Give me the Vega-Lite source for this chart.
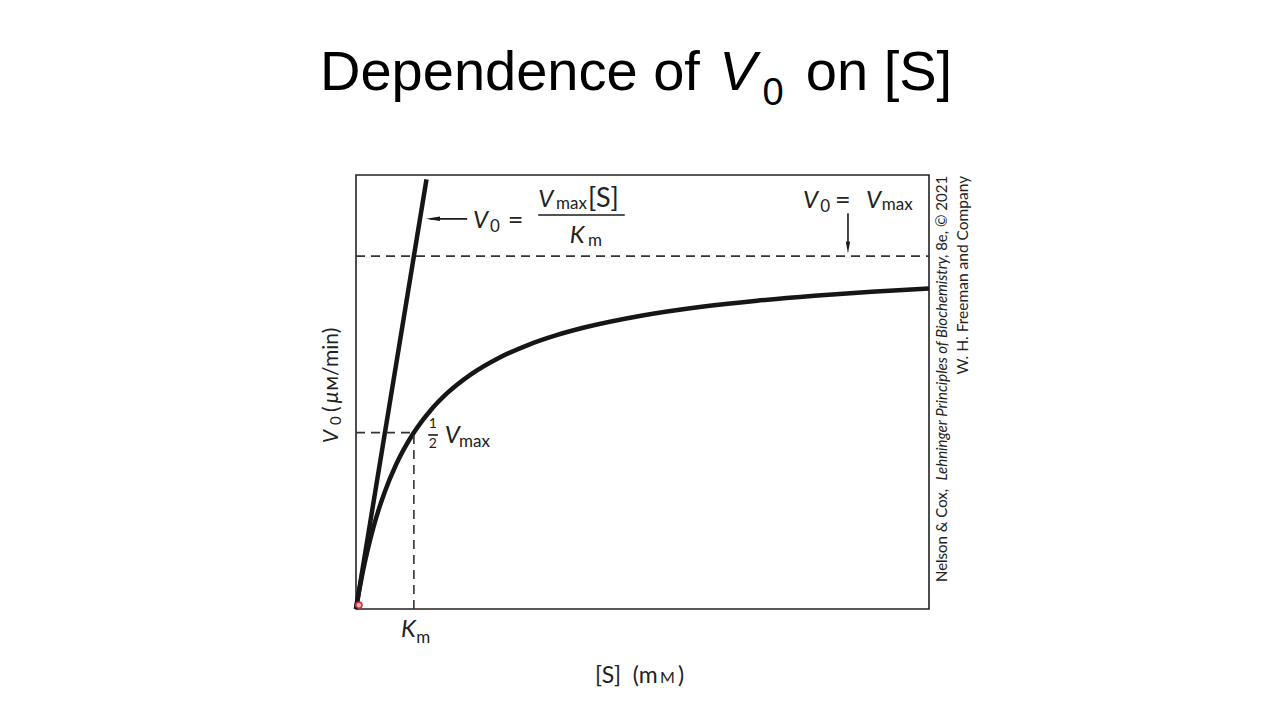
{
  "$schema": "https://vega.github.io/schema/vega-lite/v6.json",
  "autosize": "none",
  "width": 573,
  "height": 434,
  "padding": {"left": 356, "top": 175, "right": 351, "bottom": 111},
  "background": "white",
  "config": {"view": {"stroke": "#222", "strokeWidth": 1.6}},
  "encoding": {
    "x": {"field": "x", "type": "quantitative", "scale": {"domain": [0, 100], "nice": false, "zero": false}, "axis": null},
    "y": {"field": "y", "type": "quantitative", "scale": {"domain": [0, 100], "nice": false, "zero": false}, "axis": null}
  },
  "layer": [
    {
      "data": {"values": [
        {"x": 0, "y": 0}, {"x": 0.5, "y": 3.83}, {"x": 1, "y": 7.32}, {"x": 1.5, "y": 10.51}, {"x": 2, "y": 13.44},
        {"x": 3, "y": 18.62}, {"x": 4, "y": 23.07}, {"x": 5, "y": 26.92}, {"x": 7, "y": 33.28}, {"x": 10.1, "y": 40.65},
        {"x": 13, "y": 45.75}, {"x": 16, "y": 49.84}, {"x": 20, "y": 54.02}, {"x": 25, "y": 57.91}, {"x": 30, "y": 60.82},
        {"x": 35, "y": 63.09}, {"x": 40, "y": 64.91}, {"x": 50, "y": 67.64}, {"x": 60, "y": 69.59}, {"x": 70, "y": 71.05},
        {"x": 80, "y": 72.19}, {"x": 90, "y": 73.10}, {"x": 100, "y": 73.84}
      ]},
      "mark": {"type": "line", "color": "#161616", "strokeWidth": 4.5, "interpolate": "monotone"}
    },
    {
      "data": {"values": [{"x": 0, "y": 0}, {"x": 12.3, "y": 99}]},
      "mark": {"type": "line", "color": "#161616", "strokeWidth": 4.5}
    },
    {
      "data": {"values": [
        {"x": 0, "x2": 100, "y": 81.3, "y2": 81.3},
        {"x": 0, "x2": 10.1, "y": 40.65, "y2": 40.65},
        {"x": 10.1, "x2": 10.1, "y": 0, "y2": 40.65}
      ]},
      "mark": {"type": "rule", "color": "#333", "strokeWidth": 1.6, "strokeDash": [9, 6]},
      "encoding": {"x2": {"field": "x2"}, "y2": {"field": "y2"}}
    },
    {
      "data": {"values": [
        {"x": 12.9, "x2": 19.4, "y": 89.9, "y2": 89.9},
        {"x": 31.8, "x2": 46.9, "y": 90.8, "y2": 90.8},
        {"x": 12.6, "x2": 14.3, "y": 40.1, "y2": 40.1},
        {"x": 85.86, "x2": 85.86, "y": 91.2, "y2": 84.6}
      ]},
      "mark": {"type": "rule", "color": "#1a1a1a", "strokeWidth": 1.6},
      "encoding": {"x2": {"field": "x2"}, "y2": {"field": "y2"}}
    },
    {
      "data": {"values": [{"x": 13.44, "y": 89.9}]},
      "mark": {"type": "point", "shape": "M -1 0 L 1 -0.32 L 1 0.32 Z", "size": 196, "filled": true, "color": "#1a1a1a", "opacity": 1}
    },
    {
      "data": {"values": [{"x": 85.86, "y": 83.3}]},
      "mark": {"type": "point", "shape": "M 0 1 L -0.36 -1 L 0.36 -1 Z", "size": 144, "filled": true, "color": "#1a1a1a", "opacity": 1}
    },
    {
      "data": {"values": [{"x": 0.5, "y": 0.9}]},
      "mark": {"type": "point", "shape": "circle", "size": 40, "filled": true, "fill": "#f6b0b0", "stroke": "#d02030", "strokeWidth": 1.5, "opacity": 1}
    },
    {
      "data": {"values": [{"x": -6.28, "y": 119.6, "t": "Dependence of"}, {"x": 78.5, "y": 119.6, "t": "on [S]"}]},
      "mark": {"type": "text", "font": "Liberation Sans", "fontSize": 56, "align": "left", "baseline": "alphabetic", "color": "#000"},
      "encoding": {"text": {"field": "t"}}
    },
    {
      "data": {"values": [{"x": 63.4, "y": 119.6, "t": "V"}]},
      "mark": {"type": "text", "font": "Liberation Sans", "fontSize": 56, "fontStyle": "italic", "align": "left", "baseline": "alphabetic", "color": "#000"},
      "encoding": {"text": {"field": "t"}}
    },
    {
      "data": {"values": [{"x": 70.95, "y": 116.1, "t": "0"}]},
      "mark": {"type": "text", "font": "Liberation Sans", "fontSize": 38, "align": "left", "baseline": "alphabetic", "color": "#000"},
      "encoding": {"text": {"field": "t"}}
    },
    {
      "data": {"values": [
        {"x": 20.4, "y": 87.8, "t": "V"},
        {"x": 31.8, "y": 92.6, "t": "V"},
        {"x": 37.3, "y": 84.3, "t": "K"},
        {"x": 78.0, "y": 92.4, "t": "V"},
        {"x": 89.0, "y": 92.4, "t": "V"},
        {"x": 15.5, "y": 38.2, "t": "V"},
        {"x": 7.85, "y": -6.45, "t": "K"}
      ]},
      "mark": {"type": "text", "font": "Lato", "fontSize": 24, "fontStyle": "italic", "align": "left", "baseline": "alphabetic", "color": "#222"},
      "encoding": {"text": {"field": "t"}}
    },
    {
      "data": {"values": [
        {"x": 26.5, "y": 87.6, "t": "="},
        {"x": 40.5, "y": 92.6, "t": "[S]"},
        {"x": 83.6, "y": 92.2, "t": "="}
      ]},
      "mark": {"type": "text", "font": "Lato", "fontSize": 27, "align": "left", "baseline": "alphabetic", "color": "#222"},
      "encoding": {"text": {"field": "t"}}
    },
    {
      "data": {"values": [
        {"x": 23.4, "y": 86.9, "t": "0"},
        {"x": 34.9, "y": 92.2, "t": "max"},
        {"x": 40.5, "y": 83.6, "t": "m"},
        {"x": 81.0, "y": 91.5, "t": "0"},
        {"x": 91.75, "y": 91.9, "t": "max"},
        {"x": 17.97, "y": 37.3, "t": "max"},
        {"x": 10.5, "y": -7.8, "t": "m"}
      ]},
      "mark": {"type": "text", "font": "Lato", "fontSize": 17, "align": "left", "baseline": "alphabetic", "color": "#222"},
      "encoding": {"text": {"field": "t"}}
    },
    {
      "data": {"values": [{"x": 13.4, "y": 41.7, "t": "1"}, {"x": 13.4, "y": 37.1, "t": "2"}]},
      "mark": {"type": "text", "font": "Lato", "fontSize": 14, "align": "center", "baseline": "alphabetic", "color": "#222"},
      "encoding": {"text": {"field": "t"}}
    },
    {
      "data": {"values": [{"x": 41.71, "y": -17.05, "t": "[S]"}, {"x": 48.3, "y": -17.05, "t": "(m"}, {"x": 56.2, "y": -17.05, "t": ")"}]},
      "mark": {"type": "text", "font": "Lato", "fontSize": 23, "align": "left", "baseline": "alphabetic", "color": "#222"},
      "encoding": {"text": {"field": "t"}}
    },
    {
      "data": {"values": [{"x": 53.05, "y": -17.05, "t": "M"}]},
      "mark": {"type": "text", "font": "Lato", "fontSize": 16, "align": "left", "baseline": "alphabetic", "color": "#222"},
      "encoding": {"text": {"field": "t"}}
    },
    {
      "data": {"values": [{"x": -3.14, "y": 38.2, "t": "V"}]},
      "mark": {"type": "text", "font": "Lato", "fontSize": 21, "fontStyle": "italic", "angle": 270, "align": "left", "baseline": "alphabetic", "color": "#222"},
      "encoding": {"text": {"field": "t"}}
    },
    {
      "data": {"values": [{"x": -2.62, "y": 42.4, "t": "0"}]},
      "mark": {"type": "text", "font": "Lato", "fontSize": 15, "angle": 270, "align": "left", "baseline": "alphabetic", "color": "#222"},
      "encoding": {"text": {"field": "t"}}
    },
    {
      "data": {"values": [{"x": -3.14, "y": 45.4, "t": "("}, {"x": -3.14, "y": 50.3, "t": "ᴍ/min)"}]},
      "mark": {"type": "text", "font": "Lato", "fontSize": 21, "angle": 270, "align": "left", "baseline": "alphabetic", "color": "#222"},
      "encoding": {"text": {"field": "t"}}
    },
    {
      "data": {"values": [{"x": -3.14, "y": 47.3, "t": "µ"}]},
      "mark": {"type": "text", "font": "Lato", "fontSize": 21, "fontStyle": "italic", "angle": 270, "align": "left", "baseline": "alphabetic", "color": "#222"},
      "encoding": {"text": {"field": "t"}}
    },
    {
      "data": {"values": [{"x": 103.1, "y": 6.2, "t": "Nelson & Cox,"}]},
      "mark": {"type": "text", "font": "Lato", "fontSize": 15, "angle": 270, "align": "left", "baseline": "alphabetic", "color": "#222"},
      "encoding": {"text": {"field": "t"}}
    },
    {
      "data": {"values": [{"x": 103.1, "y": 81.1, "t": "Lehninger Principles of Biochemistry"}]},
      "mark": {"type": "text", "font": "Lato", "fontSize": 15, "fontStyle": "italic", "angle": 270, "align": "right", "baseline": "alphabetic", "color": "#222"},
      "encoding": {"text": {"field": "t"}}
    },
    {
      "data": {"values": [{"x": 103.1, "y": 99.8, "t": ", 8e, © 2021"}]},
      "mark": {"type": "text", "font": "Lato", "fontSize": 15, "angle": 270, "align": "right", "baseline": "alphabetic", "color": "#222"},
      "encoding": {"text": {"field": "t"}}
    },
    {
      "data": {"values": [{"x": 106.8, "y": 99.8, "t": "W. H. Freeman and Company"}]},
      "mark": {"type": "text", "font": "Lato", "fontSize": 15.5, "angle": 270, "align": "right", "baseline": "alphabetic", "color": "#222"},
      "encoding": {"text": {"field": "t"}}
    }
  ]
}
